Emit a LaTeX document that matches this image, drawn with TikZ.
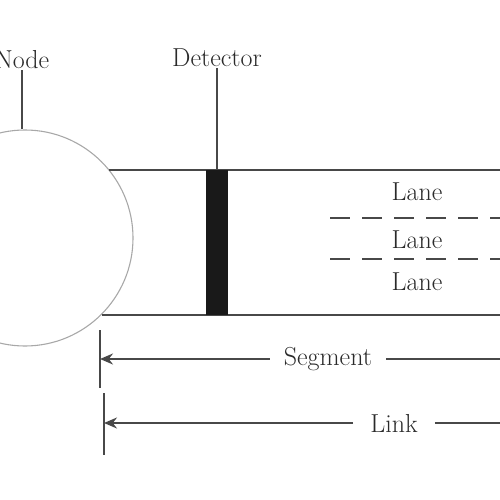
\documentclass[tikz,border=0pt]{standalone}
\usetikzlibrary{arrows.meta}
\definecolor{linec}{HTML}{484848}
\definecolor{circc}{HTML}{A8A8A8}
\definecolor{textc}{HTML}{2A2A2A}

\begin{document}
\begin{tikzpicture}[x=1pt,y=-1pt,>={Stealth[length=13pt,width=11pt]},
  lbl/.style={font=\fontsize{26}{28}\selectfont,text=textc,inner sep=1pt},
  dimlbl/.style={lbl,inner xsep=14pt},
  road/.style={linec,line width=2pt},
  tick/.style={linec,line width=1.6pt}]
  \useasboundingbox (0,0) rectangle (500,500);
  % node and road
  \node[circle,draw=circc,line width=1.1pt,minimum size=216pt,inner sep=0] (node) at (25,238) {};
  \coordinate (east) at (500,0);
  \draw[road] (node.39) -- (node.39 -| east);
  \draw[road] (node.-45) -- (node.-45 -| east);
  \foreach \y in {218,259} \draw[road,dash pattern=on 20pt off 12pt] (330,\y) -- (500,\y);
  \foreach \y [count=\i] in {192,240,282} \node[lbl] (lane\i) at (417,\y) {Lane};
  \node[fill=black!90,minimum width=22pt,minimum height=145pt,inner sep=0] (det) at (216.5,242.5) {};
  % labels on top
  \node[lbl] (nodelbl) at (22,60) {Node};
  \draw[tick] (nodelbl.south) -- (nodelbl.south |- node.north);
  \node[lbl] (detlbl) at (217,58) {Detector};
  \draw[tick] (detlbl.south) -- (detlbl.south |- det.north);
  % segment and link
  \draw[tick] (100,330) -- (100,388);
  \coordinate (segL) at (100,359);
  \coordinate (segR) at (500,359);
  \node[dimlbl] (seg) at (328,359) {Segment};
  \draw[road,->] (seg) -- (segL);
  \draw[road] (seg) -- (segR);
  \draw[tick] (104,393) -- (104,455);
  \coordinate (linkL) at (104,423);
  \coordinate (linkR) at (500,423);
  \node[dimlbl,inner xsep=17pt] (link) at (394,423) {Link};
  \draw[road,->] (link) -- (linkL);
  \draw[road] (link) -- (linkR);
\end{tikzpicture}
\end{document}
